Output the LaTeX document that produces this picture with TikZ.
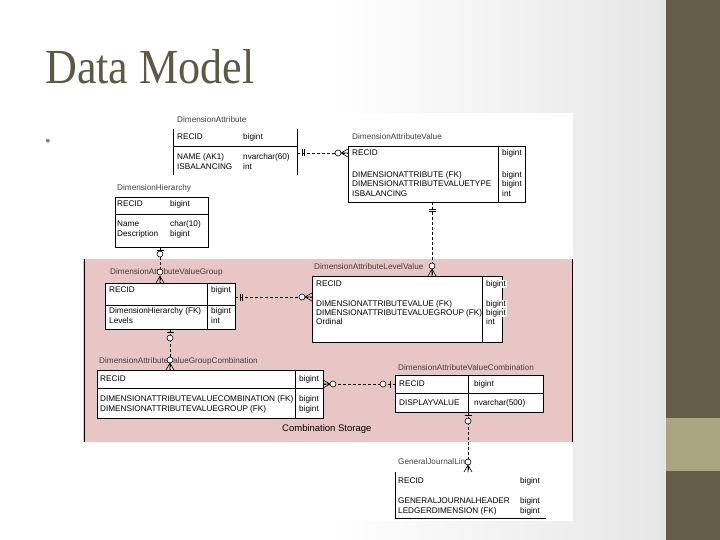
\documentclass[tikz,border=0pt]{standalone}
\usepackage{fontspec}
\setmainfont{Liberation Serif}
\newfontfamily\tblfont{Liberation Sans}
\usetikzlibrary{positioning, calc}
\definecolor{slideOl}{HTML}{655E47}
\definecolor{slideOlL}{HTML}{A9A67F}
\definecolor{titleOl}{HTML}{5E5943}
\definecolor{storePk}{HTML}{E8C6C6}
\definecolor{bgGr}{HTML}{E6E6E6}

\tikzset{
  tbl/.style={draw, line width=0.7pt, fill=white, inner sep=0pt, anchor=north west},
  fld/.style={font=\tblfont\fontsize{8.2}{8}\selectfont, anchor=west, inner sep=0pt},
  ttl/.style={font=\tblfont\fontsize{8.2}{8}\selectfont, anchor=west, inner sep=0pt, text=black!75},
  rel/.style={dash pattern=on 3pt off 2pt, line width=0.6pt},
  sym/.style={line width=0.6pt},
  opt/.style={draw, line width=0.6pt, fill=white, circle, inner sep=0pt, minimum size=6pt},
}

\begin{document}
\begin{tikzpicture}[x=1pt, y=-1pt]
  \useasboundingbox (0,0) rectangle (720,540);
  % slide background
  \fill[white] (0,0) rectangle (666,540);
  \shade[left color=white, right color=bgGr] (330,0) rectangle (666,540);
  \fill[slideOl] (666,0) rectangle (720,540);
  \fill[slideOlL] (666,418) rectangle (720,471);
  \node[anchor=base west, font=\fontsize{49}{49}\selectfont, text=titleOl,
    xscale=0.9, inner sep=0pt] (title) at (45,84) {Data Model};
  \node[text=gray, font=\fontsize{16}{16}\selectfont, inner sep=0pt] (bullet) at (48,143) {•};

  % diagram image
  \fill[white] (83,113) rectangle (573,521);
  \fill[storePk] (83,259) rectangle (572,442);
  \draw[line width=0.7pt] (84,259) -- (84,442) (572,259) -- (572,442);
  \node[anchor=west, inner sep=0pt, font=\tblfont\fontsize{9.5}{10}\selectfont]
    (store) at (282,429) {Combination Storage};

  % DimensionAttribute
  \node[ttl] (da-t) at (177,120) {DimensionAttribute};
  \coordinate (da-nw) at (173,129);
  \coordinate (da-se) at (297,175);
  \draw[line width=0.7pt] (da-nw) -- (173,175) (297,129) -- (da-se) (173,146) -- (297,146);
  \foreach \y/\f/\t in {137/RECID/bigint, 157/{NAME (AK1)}/{nvarchar(60)}, 167/ISBALANCING/int}{
    \node[fld] (da-f\y) at (177,\y) {\f};
    \node[fld] (da-y\y) at (243,\y) {\t};
  }

  % DimensionAttributeValue
  \node[ttl] (dav-t) at (352,137) {DimensionAttributeValue};
  \node[tbl, minimum width=177pt, minimum height=56pt] (dav) at (348,146) {};
  \draw[line width=0.7pt] (498,146) -- (498,202);
  \foreach \y/\f/\t in {153/RECID/bigint, 175/{DIMENSIONATTRIBUTE (FK)}/bigint,
      184/DIMENSIONATTRIBUTEVALUETYPE/bigint, 194/ISBALANCING/int}{
    \node[fld] (dav-f\y) at (352,\y) {\f};
    \node[fld] (dav-y\y) at (502,\y) {\t};
  }

  % DimensionHierarchy
  \node[ttl] (dh-t) at (117,188) {DimensionHierarchy};
  \node[tbl, minimum width=93pt, minimum height=50pt] (dh) at (115,197) {};
  \draw[line width=0.7pt] (115,214) -- (208,214);
  \foreach \y/\f/\t in {204/RECID/bigint, 224/Name/{char(10)}, 234/Description/bigint}{
    \node[fld] (dh-f\y) at (117,\y) {\f};
    \node[fld] (dh-y\y) at (170,\y) {\t};
  }

  % DimensionAttributeValueGroup
  \node[tbl, minimum width=130pt, minimum height=46pt] (dvg) at (105,283) {};
  \draw[line width=0.7pt] (105,305) -- (235,305) (207,283) -- (207,329);
  \foreach \y/\f/\t in {290/RECID/bigint, 311/{DimensionHierarchy (FK)}/bigint, 321/Levels/int}{
    \node[fld] (dvg-f\y) at (109,\y) {\f};
    \node[fld] (dvg-y\y) at (211,\y) {\t};
  }

  % DimensionAttributeLevelValue
  \node[tbl, minimum width=190pt, minimum height=66pt] (dlv) at (312,276) {};
  \draw[line width=0.7pt] (482,276) -- (482,342);
  \foreach \y/\f/\t in {284/RECID/bigint, 304/{DIMENSIONATTRIBUTEVALUE (FK)}/bigint,
      313/{DIMENSIONATTRIBUTEVALUEGROUP (FK)}/bigint, 322/Ordinal/int}{
    \node[fld] (dlv-f\y) at (316,\y) {\f};
    \node[fld, fill=white, inner xsep=1pt] (dlv-y\y) at (485,\y) {\t};
  }

  % DimensionAttributeValueGroupCombination
  \node[tbl, minimum width=226pt, minimum height=48pt] (dgc) at (97,370) {};
  \draw[line width=0.7pt] (97,388) -- (323,388) (295,370) -- (295,418);
  \foreach \y/\f/\t in {379/RECID/bigint, 399/{DIMENSIONATTRIBUTEVALUECOMBINATION (FK)}/bigint,
      409/{DIMENSIONATTRIBUTEVALUEGROUP (FK)}/bigint}{
    \node[fld] (dgc-f\y) at (100,\y) {\f};
    \node[fld, fill=white, inner xsep=1pt] (dgc-y\y) at (298,\y) {\t};
  }

  % DimensionAttributeValueCombination
  \node[ttl] (dvc-t) at (398,368) {DimensionAttributeValueCombination};
  \node[tbl, minimum width=148pt, minimum height=37pt] (dvc) at (395,375) {};
  \draw[line width=0.7pt] (395,393) -- (543,393) (468,375) -- (468,412);
  \foreach \y/\f/\t in {384/RECID/bigint, 403/DISPLAYVALUE/{nvarchar(500)}}{
    \node[fld] (dvc-f\y) at (399,\y) {\f};
    \node[fld] (dvc-y\y) at (474,\y) {\t};
  }

  % GeneralJournalLine
  \draw[line width=0.7pt] (395,472) -- (395,518) -- (546,518);
  \foreach \y/\f/\t in {481/RECID/bigint, 501/GENERALJOURNALHEADER/bigint,
      511/{LEDGERDIMENSION (FK)}/bigint}{
    \node[fld] (gjl-f\y) at (398,\y) {\f};
    \node[fld] (gjl-y\y) at (520,\y) {\t};
  }

  % relationships
  \coordinate (r1a) at (297,153);  \coordinate (r1b) at (348,153);
  \draw[rel] (r1a) -- (r1b);
  \draw[sym] ($(r1a)+(5,-3.5)$) -- ++(0,7) ($(r1a)+(7.5,-3.5)$) -- ++(0,7);
  \draw[sym] ($(r1b)+(-7,0)$) -- ($(r1b)+(0,-4)$) ($(r1b)+(-7,0)$) -- (r1b)
    ($(r1b)+(-7,0)$) -- ($(r1b)+(0,4)$);
  \node[opt] (r1o) at ($(r1b)+(-10,0)$) {};

  \coordinate (r2a) at (432,202);  \coordinate (r2b) at (432,276);
  \draw[rel] (r2a) -- (r2b);
  \draw[sym] ($(r2a)+(-3.5,7)$) -- ++(7,0) ($(r2a)+(-3.5,9.5)$) -- ++(7,0);
  \draw[sym] ($(r2b)+(0,-7)$) -- ($(r2b)+(-4,0)$) ($(r2b)+(0,-7)$) -- (r2b)
    ($(r2b)+(0,-7)$) -- ($(r2b)+(4,0)$);
  \node[opt] (r2o) at ($(r2b)+(0,-10)$) {};

  \node[ttl] (dlv-t) at (314,267) {DimensionAttributeLevelValue};

  \coordinate (r3a) at (160,247);  \coordinate (r3b) at (160,283);
  \draw[rel] (r3a) -- (r3b);
  \draw[sym] ($(r3a)+(-3.5,3)$) -- ++(7,0);
  \node[opt] (r3p) at ($(r3a)+(0,7)$) {};
  \node[ttl] (dvg-t) at (110,272) {DimensionAttributeValueGroup};
  \draw[sym] ($(r3b)+(0,-7)$) -- ($(r3b)+(-4,0)$) ($(r3b)+(0,-7)$) -- (r3b)
    ($(r3b)+(0,-7)$) -- ($(r3b)+(4,0)$);
  \node[opt] (r3o) at ($(r3b)+(0,-11)$) {};

  \coordinate (r4a) at (235,297);  \coordinate (r4b) at (312,297);
  \draw[rel] (r4a) -- (r4b);
  \draw[sym] ($(r4a)+(5,-3.5)$) -- ++(0,7) ($(r4a)+(7.5,-3.5)$) -- ++(0,7);
  \draw[sym] ($(r4b)+(-7,0)$) -- ($(r4b)+(0,-4)$) ($(r4b)+(-7,0)$) -- (r4b)
    ($(r4b)+(-7,0)$) -- ($(r4b)+(0,4)$);
  \node[opt] (r4o) at ($(r4b)+(-10,0)$) {};

  \coordinate (r5a) at (170,329);  \coordinate (r5b) at (170,370);
  \draw[rel] (r5a) -- (r5b);
  \draw[sym] ($(r5a)+(-3.5,3)$) -- ++(7,0);
  \node[opt] (r5p) at ($(r5a)+(0,9)$) {};
  \node[ttl] (dgc-t) at (99,361) {DimensionAttributeValueGroupCombination};
  \draw[sym] ($(r5b)+(0,-7)$) -- ($(r5b)+(-4,0)$) ($(r5b)+(0,-7)$) -- (r5b)
    ($(r5b)+(0,-7)$) -- ($(r5b)+(4,0)$);
  \node[opt] (r5o) at ($(r5b)+(0,-10)$) {};

  \coordinate (r6a) at (323,384);  \coordinate (r6b) at (395,384);
  \draw[rel] (r6a) -- (r6b);
  \draw[sym] ($(r6a)+(7,0)$) -- ($(r6a)+(0,-4)$) ($(r6a)+(7,0)$) -- (r6a)
    ($(r6a)+(7,0)$) -- ($(r6a)+(0,4)$);
  \node[opt] (r6p) at ($(r6a)+(10,0)$) {};
  \draw[sym] ($(r6b)+(-5,-3.5)$) -- ++(0,7);
  \node[opt] (r6o) at ($(r6b)+(-12,0)$) {};

  \coordinate (r7a) at (468,412);  \coordinate (r7b) at (468,472);
  \draw[rel] (r7a) -- (r7b);
  \draw[sym] ($(r7a)+(-3.5,3.5)$) -- ++(7,0);
  \node[opt] (r7p) at ($(r7a)+(0,9)$) {};
  \node[ttl] (gjl-t) at (398,462) {GeneralJournalLine};
  \draw[sym] ($(r7b)+(0,-7)$) -- ($(r7b)+(-4,0)$) ($(r7b)+(0,-7)$) -- (r7b)
    ($(r7b)+(0,-7)$) -- ($(r7b)+(4,0)$);
  \node[opt] (r7o) at ($(r7b)+(0,-10)$) {};
\end{tikzpicture}
\end{document}
